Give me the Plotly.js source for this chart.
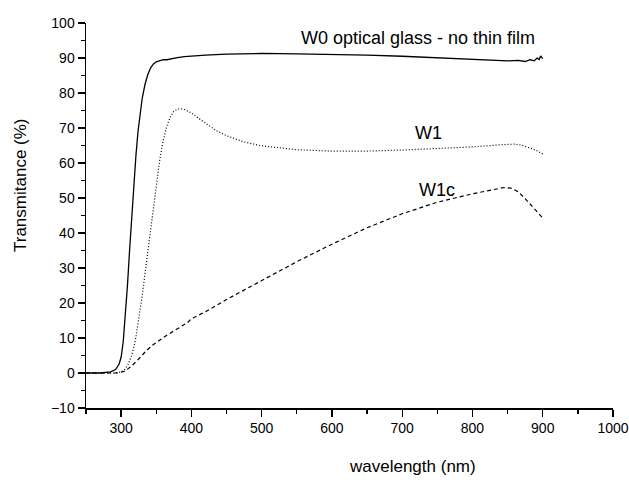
<!DOCTYPE html>
<html>
<head>
<meta charset="utf-8">
<script src="https://cdn.plot.ly/plotly-3.0.1.min.js"></script>
<style>html,body{margin:0;padding:0;background:#fff;}#chart{width:629px;height:480px;}</style>
</head>
<body>
<div id="chart"></div>
<script>
// W0 optical glass - no thin film (solid)
const wlW0 = [250, 270, 285, 292, 297, 300, 303, 306, 309, 312, 315, 318, 321, 324, 327, 330, 334, 338, 342, 346, 350, 355, 360, 365, 370, 375, 380, 390, 400, 420, 450, 500, 550, 600, 650, 700, 750, 800, 830, 850, 865, 875, 882, 888, 892, 895, 897, 900];
const tW0  = [0, 0, 0.3, 1, 2.5, 4.5, 9, 16, 25, 35, 45, 54, 62, 69, 74.5, 78.5, 82.5, 85.3, 87.2, 88.3, 88.9, 89.3, 89.5, 89.5, 89.7, 90.1, 90.1, 90.4, 90.6, 90.8, 91.1, 91.3, 91.2, 91.1, 90.8, 90.5, 90.1, 89.6, 89.3, 89.2, 89.3, 89.0, 89.5, 89.2, 90.0, 89.6, 90.6, 89.8];
// W1 (dotted)
const wlW1 = [250, 290, 300, 305, 310, 315, 320, 325, 330, 335, 340, 345, 350, 355, 360, 365, 370, 375, 380, 385, 390, 395, 400, 410, 420, 435, 450, 475, 500, 550, 600, 650, 700, 750, 800, 840, 860, 870, 880, 890, 900];
const tW1  = [0, 0, 0.3, 1, 2.5, 5, 9, 15, 22, 30, 38, 46, 54, 61, 66.5, 70.5, 73.2, 74.8, 75.4, 75.5, 75.3, 74.9, 74.3, 72.8, 71.3, 69.3, 67.8, 66, 64.9, 63.8, 63.4, 63.4, 63.7, 64.1, 64.6, 65.2, 65.4, 65.1, 64.3, 63.7, 62.6];
// W1c (dashed)
const wlW1c = [250, 295, 305, 315, 325, 335, 345, 355, 365, 375, 385, 395, 400, 420, 450, 500, 550, 600, 650, 700, 750, 800, 830, 845, 855, 865, 875, 885, 895, 900];
const tW1c  = [0, 0, 0.5, 2, 4, 6.2, 8, 9.5, 10.8, 12, 13.2, 14.5, 15.5, 17.5, 21, 26.5, 31.8, 36.8, 41.5, 45.5, 48.8, 51.2, 52.5, 53, 52.8, 51.8, 49.8, 47.5, 45.5, 44.3];

const seriesNames = ["W0 optical glass - no thin film", "W1", "W1c"];
const xTitle = "wavelength (nm)";
const yTitle = "Transmitance (%)";

const FONT = "Arial, 'Liberation Sans', sans-serif";

const traces = [
  {x: wlW0, y: tW0, mode: "lines", name: seriesNames[0], line: {color: "#000", width: 1.3}},
  {x: wlW1, y: tW1, mode: "lines", name: seriesNames[1], line: {color: "#000", width: 1.2, dash: "1px,2px"}},
  {x: wlW1c, y: tW1c, mode: "lines", name: seriesNames[2], line: {color: "#000", width: 1.2, dash: "4px,3px"}}
];

const L = 86, R = 16, T = 23, B = 72;
const PW = 629 - L - R, PH = 480 - T - B;

const layout = {
  width: 629, height: 480,
  margin: {l: L, r: R, t: T, b: B},
  paper_bgcolor: "#fff", plot_bgcolor: "#fff",
  showlegend: false,
  font: {family: FONT, size: 14, color: "#000"},
  xaxis: {
    range: [250, 1000], tick0: 0, dtick: 100,
    showgrid: false, zeroline: false,
    showline: true, linecolor: "#000", linewidth: 1.5,
    ticks: "outside", ticklen: 7, tickwidth: 1.3, tickcolor: "#000",
    ticklabeloverflow: "allow",
    minor: {dtick: 50, ticks: "outside", ticklen: 4, tickwidth: 1.3, tickcolor: "#000"},
    tickfont: {family: FONT, size: 14, color: "#000"}
  },
  yaxis: {
    range: [-10, 100], tick0: 0, dtick: 10,
    showgrid: false, zeroline: false,
    showline: true, linecolor: "#000", linewidth: 1.5,
    ticks: "outside", ticklen: 7, tickwidth: 1.3, tickcolor: "#000",
    ticklabeloverflow: "allow",
    minor: {dtick: 5, ticks: "outside", ticklen: 4, tickwidth: 1.3, tickcolor: "#000"},
    tickfont: {family: FONT, size: 14, color: "#000"}
  },
  annotations: [
    {xref: "paper", yref: "paper", x: (412 - L) / PW, y: (480 - B - 466) / PH, text: xTitle, showarrow: false,
     font: {family: FONT, size: 17, color: "#000"}, xanchor: "center", yanchor: "middle"},
    {xref: "paper", yref: "paper", x: (20 - L) / PW, y: (480 - B - 185) / PH, text: yTitle, showarrow: false, textangle: -90,
     font: {family: FONT, size: 17, color: "#000"}, xanchor: "center", yanchor: "middle"},
    {xref: "x", yref: "y", x: 722, y: 95.7, text: seriesNames[0], showarrow: false,
     font: {family: FONT, size: 18, color: "#000"}, xanchor: "center", yanchor: "middle"},
    {xref: "x", yref: "y", x: 737, y: 68.5, text: seriesNames[1], showarrow: false,
     font: {family: FONT, size: 18, color: "#000"}, xanchor: "center", yanchor: "middle"},
    {xref: "x", yref: "y", x: 750, y: 52.3, text: seriesNames[2], showarrow: false,
     font: {family: FONT, size: 18, color: "#000"}, xanchor: "center", yanchor: "middle"}
  ]
};

Plotly.newPlot("chart", traces, layout, {staticPlot: true, displayModeBar: false});
</script>
</body>
</html>
